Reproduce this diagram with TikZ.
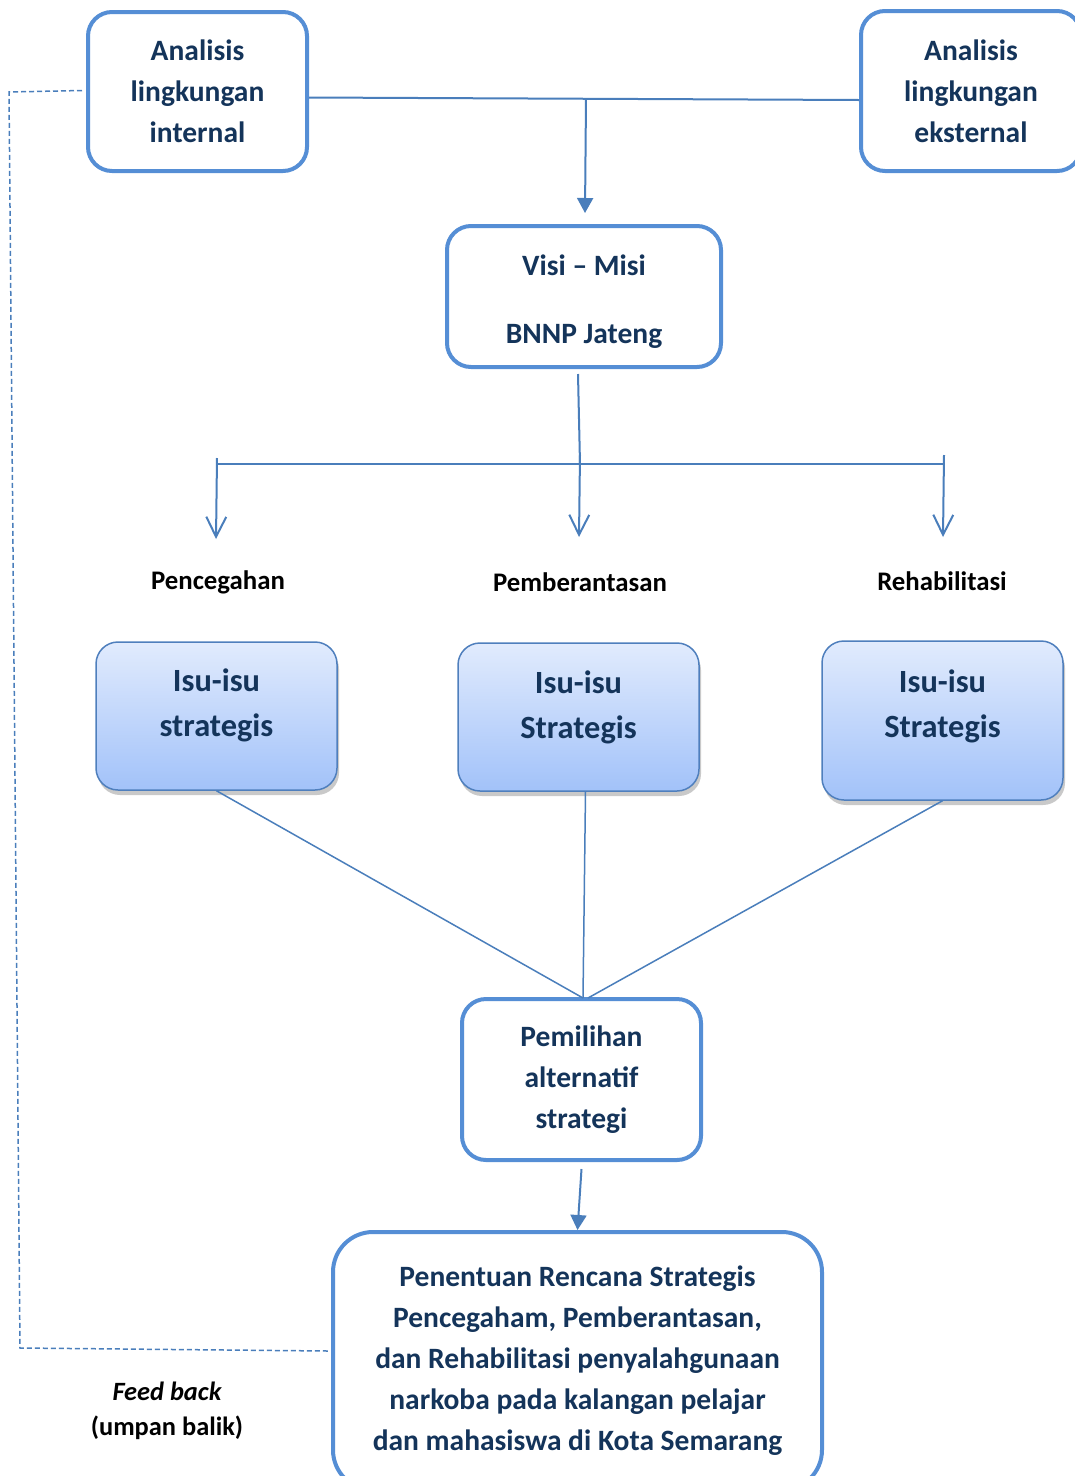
\documentclass[tikz,border=0pt]{standalone}
\usepackage{fontspec}
\setmainfont{Carlito}
\usetikzlibrary{arrows.meta,shadows}
\definecolor{bord}{HTML}{558ED5}
\definecolor{connc}{HTML}{4A7EBB}
\definecolor{navy}{HTML}{14345A}
\definecolor{gtop}{HTML}{E1EBFD}
\definecolor{gbot}{HTML}{A2C2F9}
\definecolor{gbord}{HTML}{4F7FBD}
\begin{document}
\begin{tikzpicture}[x=1pt,y=-1pt,
  wbox/.style={draw=bord, line width=4pt, rounded corners=24pt, fill=white,
    font=\bfseries\fontsize{29.5}{41}\selectfont, text=navy, align=center, inner sep=0pt},
  gbox/.style={draw=gbord, line width=1.5pt, rounded corners=22pt, top color=gtop, bottom color=gbot,
    drop shadow={shadow xshift=2pt, shadow yshift=-5pt, opacity=0.3, fill=black!70}, inner sep=0pt},
  gtext/.style={font=\bfseries\fontsize{32.4}{45}\selectfont, text=navy, align=center, inner sep=0pt},
  lbl/.style={font=\bfseries\fontsize{26.8}{30}\selectfont, text=black, inner sep=0pt},
  conn/.style={draw=connc, line width=2pt},
  tri/.style={conn, -{Triangle[length=15pt,width=16pt]}},
  barb/.style={conn, -{Straight Barb[length=20pt,width=20pt]}},
  fb/.style={draw=connc, line width=1.5pt, dash pattern=on 5pt off 3pt}
]
\useasboundingbox (0,0) rectangle (1075,1476);
\clip (0,0) rectangle (1075,1476);

% top boxes
\node[wbox, minimum width=219, minimum height=159] (int) at (197.5,91.5) {Analisis\\lingkungan\\internal};
\node[wbox, minimum width=220, minimum height=160] (ext) at (971,91) {Analisis\\lingkungan\\eksternal};
\node[wbox, minimum width=274, minimum height=141] (visi) at (584,296.5) {\rule{0pt}{30pt}Visi – Misi\\[27pt]BNNP Jateng};

% top connectors
\draw[conn] ([yshift=-6pt]int.east) -- ([yshift=-9pt]ext.west);
\coordinate (hub) at (586,99);
\coordinate (visiin) at (585,213);
\draw[tri] (hub) -- (visiin);

% branch
\coordinate (vbot) at (578,374);
\coordinate (bc) at (580,464);
\coordinate (bl) at (217,464);
\coordinate (br) at (944,464);
\draw[conn] (vbot) -- (bc);
\draw[conn] (bl) -- (br);
\coordinate (al0) at (217,458);
\coordinate (al1) at (216,539);
\coordinate (ac0) at (580,455);
\coordinate (ac1) at (579,537);
\coordinate (ar0) at (944,455);
\coordinate (ar1) at (943,537);
\draw[barb] (al0) -- (al1);
\draw[barb] (ac0) -- (ac1);
\draw[barb] (ar0) -- (ar1);

% labels
\node[lbl] (l1) at (218,582) {Pencegahan};
\node[lbl] (l2) at (580,582) {Pemberantasan};
\node[lbl] (l3) at (942,581) {Rehabilitasi};

% gradient boxes
\node[gbox, minimum width=241, minimum height=148] (g1) at (216.5,716) {};
\node[gbox, minimum width=241, minimum height=148] (g2) at (578.5,717) {};
\node[gbox, minimum width=241, minimum height=159] (g3) at (942.5,720.5) {};
\node[gtext] (t1) at (216.5,705) {Isu-isu\\strategis};
\node[gtext] (t2) at (578.5,707.5) {Isu-isu\\Strategis};
\node[gtext] (t3) at (942.5,706.5) {Isu-isu\\Strategis};

% pemilihan
\node[wbox, minimum width=239, minimum height=161] (pem) at (581.5,1079.5) {Pemilihan\\alternatif\\strategi};
\coordinate (meet) at (583,998);
\draw[conn, line width=1.5pt] (g1.south) -- (meet);
\draw[conn, line width=1.5pt] ([xshift=7pt]g2.south) -- (meet);
\draw[conn, line width=1.5pt] (g3.south) -- ([xshift=5pt]meet);

% bottom box
\node[wbox, rounded corners=40pt, minimum width=489, minimum height=258] (bot) at (577.5,1361)
  {Penentuan Rencana Strategis\\Pencegaham, Pemberantasan,\\dan Rehabilitasi penyalahgunaan\\narkoba pada kalangan pelajar\\dan mahasiswa di Kota Semarang};
\draw[tri] ([yshift=-7pt]pem.south) -- (bot.north);

% feedback
\coordinate (fb1) at (9,92);
\coordinate (fb2) at (20,1348);
\draw[fb] ([xshift=-4pt,yshift=1pt]int.west) -- (fb1) -- (fb2) -- ([xshift=-3pt,yshift=10pt]bot.west);
\node[lbl, font=\bfseries\itshape\fontsize{26.4}{30}\selectfont] (fbt) at (167,1391) {Feed back};
\node[lbl, font=\bfseries\fontsize{26.4}{30}\selectfont] (fbu) at (167,1428) {(umpan balik)};
\end{tikzpicture}
\end{document}
